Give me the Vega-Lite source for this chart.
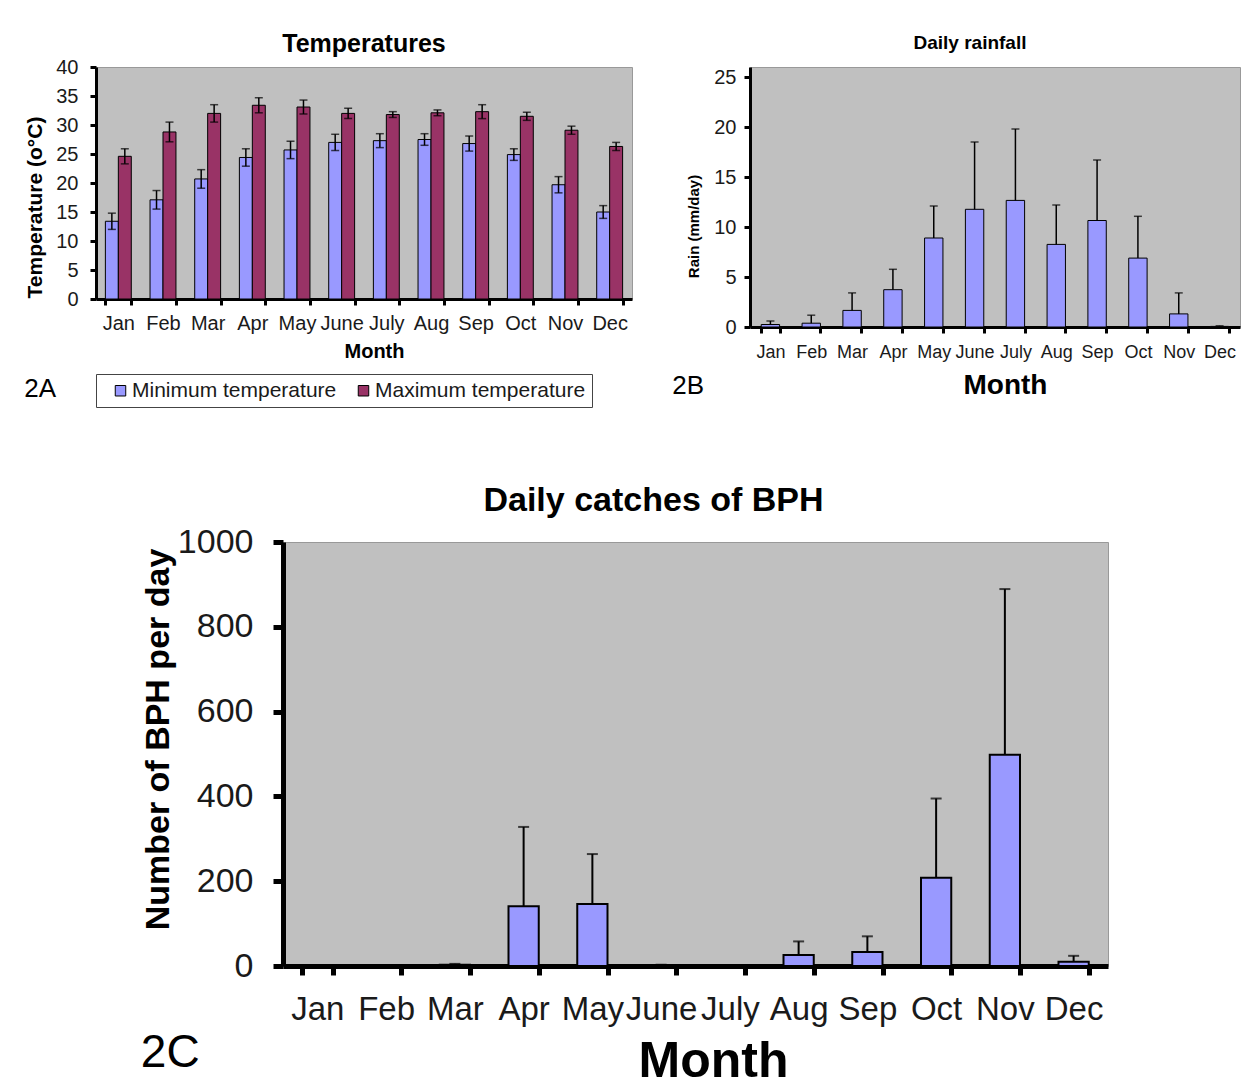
{
  "$schema": "https://vega.github.io/schema/vega-lite/v6.json",
  "padding": {"left": 24, "top": 31, "right": 0, "bottom": 0},
  "config": {
    "font": "Liberation Sans",
    "view": {"fill": "#C0C0C0", "stroke": "#999999", "strokeWidth": 1},
    "axis": {"labelColor": "#1a1a1a", "titleColor": "#000000", "domainColor": "#000000", "tickColor": "#000000", "grid": false, "labelFont": "Liberation Sans", "titleFont": "Liberation Sans", "labelOverlap": false},
    "title": {"color": "#000000", "font": "Liberation Sans"},
    "legend": {"labelFont": "Liberation Sans"}
  },
  "datasets": {
    "temps": [
      {"month": "Jan", "series": "Minimum temperature", "value": 13.4, "lower": 12.0, "upper": 14.8},
      {"month": "Jan", "series": "Maximum temperature", "value": 24.6, "lower": 23.3, "upper": 25.9},
      {"month": "Feb", "series": "Minimum temperature", "value": 17.1, "lower": 15.5, "upper": 18.7},
      {"month": "Feb", "series": "Maximum temperature", "value": 28.8, "lower": 27.1, "upper": 30.5},
      {"month": "Mar", "series": "Minimum temperature", "value": 20.7, "lower": 19.1, "upper": 22.3},
      {"month": "Mar", "series": "Maximum temperature", "value": 32.0, "lower": 30.5, "upper": 33.5},
      {"month": "Apr", "series": "Minimum temperature", "value": 24.4, "lower": 22.9, "upper": 25.9},
      {"month": "Apr", "series": "Maximum temperature", "value": 33.4, "lower": 32.1, "upper": 34.7},
      {"month": "May", "series": "Minimum temperature", "value": 25.7, "lower": 24.2, "upper": 27.2},
      {"month": "May", "series": "Maximum temperature", "value": 33.1, "lower": 31.9, "upper": 34.3},
      {"month": "June", "series": "Minimum temperature", "value": 27.0, "lower": 25.6, "upper": 28.4},
      {"month": "June", "series": "Maximum temperature", "value": 32.0, "lower": 31.1, "upper": 32.9},
      {"month": "July", "series": "Minimum temperature", "value": 27.3, "lower": 26.1, "upper": 28.5},
      {"month": "July", "series": "Maximum temperature", "value": 31.8, "lower": 31.3, "upper": 32.3},
      {"month": "Aug", "series": "Minimum temperature", "value": 27.5, "lower": 26.5, "upper": 28.5},
      {"month": "Aug", "series": "Maximum temperature", "value": 32.1, "lower": 31.6, "upper": 32.6},
      {"month": "Sep", "series": "Minimum temperature", "value": 26.8, "lower": 25.5, "upper": 28.1},
      {"month": "Sep", "series": "Maximum temperature", "value": 32.3, "lower": 31.1, "upper": 33.5},
      {"month": "Oct", "series": "Minimum temperature", "value": 24.9, "lower": 23.9, "upper": 25.9},
      {"month": "Oct", "series": "Maximum temperature", "value": 31.5, "lower": 30.8, "upper": 32.2},
      {"month": "Nov", "series": "Minimum temperature", "value": 19.7, "lower": 18.3, "upper": 21.1},
      {"month": "Nov", "series": "Maximum temperature", "value": 29.1, "lower": 28.4, "upper": 29.8},
      {"month": "Dec", "series": "Minimum temperature", "value": 15.0, "lower": 13.9, "upper": 16.1},
      {"month": "Dec", "series": "Maximum temperature", "value": 26.3, "lower": 25.6, "upper": 27.0}
    ],
    "rain": [
      {"month": "Jan", "value": 0.25, "upper": 0.6},
      {"month": "Feb", "value": 0.38, "upper": 1.18},
      {"month": "Mar", "value": 1.66, "upper": 3.41},
      {"month": "Apr", "value": 3.73, "upper": 5.77},
      {"month": "May", "value": 8.9, "upper": 12.1},
      {"month": "June", "value": 11.77, "upper": 18.5},
      {"month": "July", "value": 12.66, "upper": 19.8},
      {"month": "Aug", "value": 8.26, "upper": 12.2},
      {"month": "Sep", "value": 10.65, "upper": 16.7},
      {"month": "Oct", "value": 6.89, "upper": 11.07},
      {"month": "Nov", "value": 1.31, "upper": 3.41},
      {"month": "Dec", "value": 0.06, "upper": 0.12}
    ],
    "bph": [
      {"month": "Jan", "value": 0, "upper": 0},
      {"month": "Feb", "value": 0, "upper": 0},
      {"month": "Mar", "value": 3, "upper": 5},
      {"month": "Apr", "value": 141, "upper": 328},
      {"month": "May", "value": 146, "upper": 264},
      {"month": "June", "value": 2, "upper": 3},
      {"month": "July", "value": 0, "upper": 0},
      {"month": "Aug", "value": 26, "upper": 58},
      {"month": "Sep", "value": 33, "upper": 70},
      {"month": "Oct", "value": 208, "upper": 395},
      {"month": "Nov", "value": 498, "upper": 889},
      {"month": "Dec", "value": 10, "upper": 24}
    ]
  },
  "resolve": {"scale": {"color": "independent"}, "legend": {"color": "independent"}},
  "vconcat": [
    {
      "resolve": {"scale": {"color": "independent"}, "legend": {"color": "independent"}},
      "hconcat": [
        {
          "title": {"text": "2A", "orient": "bottom", "anchor": "start", "fontSize": 26, "fontWeight": "normal", "offset": 0, "dy": -32},
          "vconcat": [
            {
              "width": 536,
              "height": 232,
              "title": {"text": "Temperatures", "fontSize": 25, "fontWeight": "bold", "offset": 0},
              "data": {"name": "temps"},
              "encoding": {
                "x": {
                  "field": "month", "type": "nominal",
                  "sort": ["Jan", "Feb", "Mar", "Apr", "May", "June", "July", "Aug", "Sep", "Oct", "Nov", "Dec"],
                  "scale": {"paddingInner": 0.42, "paddingOuter": 0.21},
                  "axis": {"title": "Month", "titleX": 278, "labelAngle": 0, "labelFontSize": 20, "titleFontSize": 20, "titleFontWeight": "bold", "tickBand": "extent", "tickSize": 6, "tickWidth": 3, "domainWidth": 3, "labelPadding": 8, "titlePadding": 8}
                },
                "xOffset": {"field": "series", "type": "nominal", "sort": ["Minimum temperature", "Maximum temperature"], "scale": {"paddingInner": 0, "paddingOuter": 0}}
              },
              "layer": [
                {
                  "mark": {"type": "bar", "stroke": "#000000", "strokeWidth": 1},
                  "encoding": {
                    "y": {"field": "value", "type": "quantitative", "scale": {"domain": [0, 40]},
                      "axis": {"title": "Temperature (o°C)", "values": [0, 5, 10, 15, 20, 25, 30, 35, 40], "labelOverlap": false, "labelFontSize": 20, "titleFontSize": 21, "titleFontWeight": "bold", "titleY": 140, "tickSize": 6, "tickWidth": 3, "domainWidth": 3, "labelPadding": 12, "titlePadding": 10}},
                    "color": {"field": "series", "type": "nominal",
                      "scale": {"domain": ["Minimum temperature", "Maximum temperature"], "range": ["#9999FF", "#993366"]},
                      "legend": {"title": null, "orient": "bottom", "direction": "horizontal", "columns": 2, "offset": 12, "labelFontSize": 21, "labelColor": "#1a1a1a", "labelLimit": 400, "symbolType": "square", "symbolSize": 110, "symbolStrokeColor": "#000000", "symbolStrokeWidth": 1, "symbolOpacity": 1, "symbolOffset": 8, "strokeColor": "#444444", "padding": 6, "columnPadding": 8, "labelOffset": 1}}
                  }
                },
                {
                  "mark": {"type": "rule", "color": "#000000", "strokeWidth": 1.5},
                  "encoding": {
                    "y": {"field": "lower", "type": "quantitative", "axis": {"title": "Temperature (o°C)", "values": [0, 5, 10, 15, 20, 25, 30, 35, 40], "labelOverlap": false}},
                    "y2": {"field": "upper"}
                  }
                },
                {
                  "mark": {"type": "tick", "color": "#000000", "thickness": 1.5, "size": 8, "orient": "horizontal"},
                  "encoding": {"y": {"field": "upper", "type": "quantitative", "axis": {"title": "Temperature (o°C)", "values": [0, 5, 10, 15, 20, 25, 30, 35, 40], "labelOverlap": false}}}
                },
                {
                  "mark": {"type": "tick", "color": "#000000", "thickness": 1.5, "size": 8, "orient": "horizontal"},
                  "encoding": {"y": {"field": "lower", "type": "quantitative", "axis": {"title": "Temperature (o°C)", "values": [0, 5, 10, 15, 20, 25, 30, 35, 40], "labelOverlap": false}}}
                }
              ]
            }
          ]
        },
        {
          "title": {"text": "2B", "orient": "bottom", "anchor": "start", "fontSize": 26, "fontWeight": "normal", "offset": 0, "dy": -27, "dx": -14},
          "vconcat": [
            {
              "width": 490,
              "height": 260,
              "title": {"text": "Daily rainfall", "fontSize": 19, "fontWeight": "bold", "offset": 14, "dx": -25},
              "data": {"name": "rain"},
              "encoding": {
                "x": {
                  "field": "month", "type": "nominal",
                  "sort": ["Jan", "Feb", "Mar", "Apr", "May", "June", "July", "Aug", "Sep", "Oct", "Nov", "Dec"],
                  "scale": {"paddingInner": 0.55, "paddingOuter": 0.275},
                  "axis": {"title": "Month", "titleX": 255, "labelAngle": 0, "labelFontSize": 18, "titleFontSize": 28, "titleFontWeight": "bold", "tickBand": "extent", "tickSize": 6, "tickWidth": 3, "domainWidth": 3, "labelPadding": 10, "titlePadding": 10}
                }
              },
              "layer": [
                {
                  "mark": {"type": "bar", "fill": "#9999FF", "stroke": "#000000", "strokeWidth": 1},
                  "encoding": {
                    "y": {"field": "value", "type": "quantitative", "scale": {"domain": [0, 25]},
                      "axis": {"title": "Rain (mm/day)", "values": [0, 5, 10, 15, 20, 25], "labelFontSize": 20, "titleFontSize": 15, "titleFontWeight": "bold", "titleY": 159, "tickSize": 6, "tickWidth": 3, "domainWidth": 3, "labelPadding": 8, "titlePadding": 12}}
                  }
                },
                {
                  "mark": {"type": "rule", "color": "#000000", "strokeWidth": 1.5},
                  "encoding": {"y": {"field": "value", "type": "quantitative", "axis": {"title": "Rain (mm/day)", "values": [0, 5, 10, 15, 20, 25]}}, "y2": {"field": "upper"}}
                },
                {
                  "mark": {"type": "tick", "color": "#000000", "thickness": 1.5, "size": 8, "orient": "horizontal"},
                  "encoding": {"y": {"field": "upper", "type": "quantitative", "axis": {"title": "Rain (mm/day)", "values": [0, 5, 10, 15, 20, 25]}}}
                }
              ]
            }
          ]
        }
      ],
      "spacing": 39
    },
    {
      "spacing": 0,
      "hconcat": [
        {
          "width": 44,
          "height": 1,
          "data": {"values": []},
          "mark": "point",
          "encoding": {},
          "view": {"fill": null, "stroke": null}
        },
        {
          "title": {"text": "2C", "orient": "bottom", "anchor": "start", "fontSize": 46, "fontWeight": "normal", "offset": 0, "dy": -56},
          "vconcat": [
            {
              "width": 825,
              "height": 424,
              "title": {"text": "Daily catches of BPH", "fontSize": 34, "fontWeight": "bold", "offset": 7, "dx": -42},
              "data": {"name": "bph"},
              "encoding": {
                "x": {
                  "field": "month", "type": "nominal",
                  "sort": ["Jan", "Feb", "Mar", "Apr", "May", "June", "July", "Aug", "Sep", "Oct", "Nov", "Dec"],
                  "scale": {"paddingInner": 0.56, "paddingOuter": 0.28},
                  "axis": {"title": "Month", "titleX": 430, "labelAngle": 0, "labelFontSize": 33, "titleFontSize": 50, "titleFontWeight": "bold", "tickBand": "extent", "tickSize": 9, "tickWidth": 5, "domainWidth": 5, "labelPadding": 18, "titlePadding": 10}
                }
              },
              "layer": [
                {
                  "mark": {"type": "bar", "fill": "#9999FF", "stroke": "#000000", "strokeWidth": 2},
                  "encoding": {
                    "y": {"field": "value", "type": "quantitative", "scale": {"domain": [0, 1000]},
                      "axis": {"title": "Number of BPH per day", "values": [0, 200, 400, 600, 800, 1000], "format": "d", "labelFontSize": 34, "titleFontSize": 34, "titleFontWeight": "bold", "titleY": 197, "tickSize": 10, "tickWidth": 5, "domainWidth": 5, "labelPadding": 20, "titlePadding": 2}}
                  }
                },
                {
                  "mark": {"type": "rule", "color": "#000000", "strokeWidth": 2},
                  "encoding": {"y": {"field": "value", "type": "quantitative", "axis": {"title": "Number of BPH per day", "values": [0, 200, 400, 600, 800, 1000], "format": "d"}}, "y2": {"field": "upper"}}
                },
                {
                  "mark": {"type": "tick", "color": "#000000", "thickness": 2, "size": 11, "orient": "horizontal"},
                  "encoding": {"y": {"field": "upper", "type": "quantitative", "axis": {"title": "Number of BPH per day", "values": [0, 200, 400, 600, 800, 1000], "format": "d"}}}
                }
              ]
            }
          ]
        }
      ]
    }
  ],
  "spacing": 75
}
